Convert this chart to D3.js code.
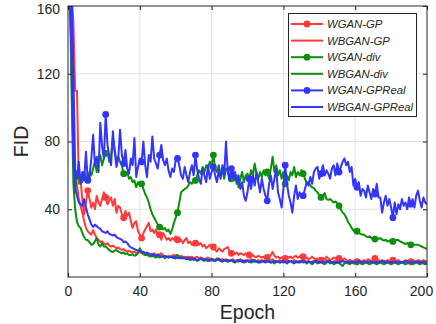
<!DOCTYPE html>
<html><head><meta charset="utf-8">
<script src="https://cdn.jsdelivr.net/npm/d3@7"></script>
<style>body{margin:0;background:#fff;} svg{display:block;}</style>
</head><body>
<svg id="chart" width="436" height="324"></svg>
<script>
const epochs = d3.range(1, 201);
const xTicks = [0, 40, 80, 120, 160, 200];
const yTicks = [40, 80, 120, 160];
const seriesNames = ["WGAN-GP", "WBGAN-GP", "WGAN-div", "WBGAN-div", "WGAN-GPReal", "WBGAN-GPReal"];
const seriesColors = ["#ff3a3a", "#ff3a3a", "#0a900a", "#0a900a", "#3434ff", "#3434ff"];
const seriesMarkers = [true, false, true, false, true, false];

const wganGP = [
175,168,150,110,110,55,58,45,37,44,
51,46,41,44,40,48,44,42,46,50,
47,43,45,47,42,46,38,42,41,37,
35,39,36,38,33,29,32,33,27,25,
23,26,28,30,32,27,28,26,28,24,
25,22,26,24,22,23,21.5,23,22,24,
22,21,22,20,21.8,23,20,21,19,19,
20,21,19,20,18,19,17,18,19,17,
17.7,16,15,17,16,15,16.5,17,17.7,15,
14,15,13.5,14.5,13,14,13.5,13,14,13,
13,12.5,13,12,11.8,12.5,12,11.5,12,11,
11.5,12,13,14.8,12.5,11.5,12,11,11.5,11,
11,12,11.5,12,11,12,12.5,11.5,12,13,
12,11,11.5,10.5,11,12,11,10.5,11,10,
10,11,10.5,12,11,10,10.5,11.5,11,10,
11,10.5,10,11,10,9.5,10,9,9.5,8.5,
9,10,9.5,9,10,9,10.5,10,9.5,10,
11,9.5,10,9,10,9.5,9,10,9.5,9,
10,9,9.5,10,9,8.5,9,10,9,9.5,
9,10,9.5,9,10,9.5,9,10,9.5,9];

const wbganGP = [
170,140,80,62,54,46,42,38,33,29,
27,26,25,27.7,25,23,22,20.7,21,20,
19,20,18.5,18,18.5,17.7,17,17.5,16.5,16,
16.5,15.5,15,15.5,14.8,14.5,15,14,14.5,14.8,
14,15,14,13.5,14,13,13.5,14,13,13.5,
13,14,12.5,12,11.8,12.5,12,12.5,13,12.5,
13,12,12.5,12,11.8,11.8,12,11.5,12,11,
11.5,12,11,11.5,11,10.5,11,11.5,10.5,11,
10.5,10,10.5,11,10,10.5,10,10.5,10,9.5,
10,10.5,9.5,10,9.5,10.5,10,9.5,10,10,
9.5,10.5,10,9.5,9,10,9.5,10,9.5,10,
9.5,9,10,10.5,9.5,9,9.5,10,9.5,9,
9.5,10,9,9.5,9,10,9.5,9,9.5,9,
10,9.5,9,9.5,8.5,9,9.5,10,9,9.5,
9,8.5,9,10,9.5,9,8.5,9,9.5,9,
8.5,9,9.5,9,8.5,9,10,9,8.5,9,
9.5,9,8.5,9,9.5,8.5,9,9,8.5,9,
9.5,9,8.5,9,8.5,9,9.5,9,8.5,9,
8.5,9,9.5,9,8.5,9,8.5,9,9.5,9,
8.5,9,8.5,9,9.5,9,8.5,9,9,8.5];

const wganDiv = [
170,130,80,50,62,58,60,56,62,59,
58,62,60,64,68,62,70,72,66,70,
73,74,68,72,82,75,69,71,68,66,
61,60,62,58,59,56,57,53,56,54,
55,52,49,47,44,40,37,35,33,31,
29.5,30,28,29,27,28,25.5,28,32,35,
38,44,50,51,52,52.5,54,56,55,57,
57,60,63,61,65,62,66,64,68,66,
72,64,62,66,60,63,58,64,63,60,
58,62,57,60,53,58,62,56,60,61,
58,63,60,67,61,58,62,59,63,60,
62,58,64,71,62,66,60,63,58,62,
55,60,57,62,60,65,59,62,60,63,
61,58,55.5,56,54,53,52.5,51,50,48,
47,48,49.5,46,45.5,46,45,44,44.5,43.6,
42,40,38,37,35,32.5,31,29,27.5,26.5,
27,26,25.5,25,25,24,23.5,24,23,22,
22.4,23,22.5,23,22,21.5,22,21,21.5,20.5,
21,21.5,21.8,21.8,21,20.5,20,19.5,20,19.5,
19,19.5,19,19,19,18.5,18,17.5,17,16.5];

const wbganDiv = [
170,110,55,40,32.5,30,29,26,23.6,22,
21.8,20.5,19,19.5,21,23,19,18,20,18,
18,17,16,15,14.8,15.5,16,15,14.5,14,
14.5,13.5,14,13,13,13.5,12.5,13,14,17,
15,13.5,13,13,12.5,12,12.5,12,11.5,12,
11.5,12,12.5,11,12,11.5,11.8,12,11,12.5,
13,11.5,11,11.5,11,10.5,11,10,10.5,10,
10.5,9.5,10,11,10,9.5,10,10.5,9.5,10,
9.5,10,11,10,9.5,9,10,9.5,9,9.5,
10,9,8.5,9.5,9,10,9,8.5,9,9.5,
9,8.5,9,10,9,8.5,9,9.5,9,8.5,
9,9.5,8.5,9,8,9,9.5,8.5,9,8.5,
9,8,9,9.5,8.5,8,9,8.5,9,9.5,
8.5,9,8,9,8.5,7.5,8.5,9,8,8.5,
9,8,7.5,8.5,9,8,8.5,7.5,8,8.5,
8,7.5,6.5,8,8.5,8,7.5,8.5,8,8,
7.5,8.5,8,7.5,8,9,8,7.5,8,8.5,
8,7.5,8,8.5,8,7.5,8,8.5,8,7.5,
8,8.5,8,7.5,8,8.5,8,7.5,8,8.5,
8,7.5,8,8.5,8,7.5,8,8,7.5,8];

const wganGPReal = [
175,170,120,64,58,68,55,62,57,74,
57,60,70,84,66,71,62,91,77,70,
96,78,71,66,86,74,65,70,87,72,
67,75,64,61,70,66,82,59,65,70,
68,80,66,59,72,68,83,70,67,64,
72,78,69,66,70,63,59,64,62,69,
70,66,60,58,65,60,56,62,66,60,
72,63,58,55,64,60,56,66,58,62,
65,60,56,63,58,66,60,80,62,57,
64,58,62,55,60,52,56,48,45,50,
58,52,60,54,62,56,50,58,52,48,
45,55,60,52,58,64,50,46,41,52,
66,55,48,44,38,48,54,46,50,47,
48,52,56,54,59,55,62,64,65,58,
61,66,60,63,61,58,64,66,60,67,
62,65,68,70,66,68,62,65,54,58,
53,56,48,52,51,47,54,50,46,52,
49,55,47,47,38,44,48,42,46,41,
35,44,37,43,40,46,42,44,40,47,
43,46,41,48,51,45,41,47,44,43];

const wbganGPReal = [
172,125,70,52,48,44,43,42,46,41,
37,34,31,29.5,31,30,29,28.5,27,26.5,
26,27,25.5,25,24.5,25,23.5,23,22.5,22,
20.5,21,20,18.5,17.5,17,16.5,16,15.5,15.5,
14.8,14.8,14,14.5,13.5,13,13.5,13,12.5,13,
12.5,12,12,12.5,12,11.5,12,11.5,11.8,11,
11.5,11,11.5,11,11,11,10.5,11,10.5,11,
10.5,10,10.5,11,10,10.5,10,9.5,10,10.5,
10,9.5,10,10.5,10,9.5,10,9.5,10,9.5,
10,9.5,9,9.5,10,9.5,9,9.5,9,9.5,
9,9.5,10,9,9.5,9,8.5,9,9.5,9,
9.5,9,8.5,9,9.5,9,9,8.5,9,9.5,
9,8.5,9,9.5,9,8.5,9,9,8.5,9,
9.5,9,8.5,9,9,8.5,9,9.5,9,8.5,
9,9,8.5,9,9.5,9,8.5,9,8.5,9,
8.5,9,9.5,9,8.5,9,8.5,9,9,8.5,
9,9.5,9,8.5,9,8.5,9,9,8.5,9,
8.5,9,8.5,9,9.5,9,8.5,9,8.5,9,
8.5,9,9,8.5,9,8.5,9,9.5,9,8.5,
9,8.5,9,9,8.5,9,8.5,9,8.5,8.5];

const seriesValues = [wganGP, wbganGP, wganDiv, wbganDiv, wganGPReal, wbganGPReal];

const W = 436, H = 324;
const m = {left: 68, top: 6, right: 9, bottom: 47};
const x = d3.scaleLinear().domain([0, 200]).range([m.left, W - m.right]);
const y = d3.scaleLinear().domain([0, 160]).range([H - m.bottom, m.top]);
const svg = d3.select("#chart");
const font = "'Liberation Sans', Arial, Helvetica, sans-serif";
const axisColor = "#262626";

svg.append("defs").append("clipPath").attr("id", "clip")
  .append("rect").attr("x", m.left).attr("y", m.top)
  .attr("width", x(200) - x(0)).attr("height", y(0) - y(160));

// grid
const grid = svg.append("g");
grid.selectAll(".gx").data(xTicks.filter(d => d > 0 && d < 200)).join("line")
  .attr("x1", d => x(d)).attr("x2", d => x(d)).attr("y1", y(0)).attr("y2", y(160))
  .attr("stroke", "#e1e1e1").attr("stroke-width", 1);
grid.selectAll(".gy").data(yTicks.filter(d => d < 160)).join("line")
  .attr("x1", x(0)).attr("x2", x(200)).attr("y1", d => y(d)).attr("y2", d => y(d))
  .attr("stroke", "#e1e1e1").attr("stroke-width", 1);

// lines
const plot = svg.append("g").attr("clip-path", "url(#clip)");
const line = d3.line().x((d, i) => x(epochs[i])).y(d => y(d));
seriesValues.forEach((vals, s) => {
  plot.append("path").datum(vals).attr("d", line)
    .attr("fill", "none").attr("stroke", seriesColors[s])
    .attr("stroke-width", 2).attr("stroke-linejoin", "round");
  if (seriesMarkers[s]) {
    plot.selectAll(null).data(vals.map((v, i) => [epochs[i], v]).filter(d => (d[0] - 1) % 10 === 0))
      .join("circle").attr("cx", d => x(d[0])).attr("cy", d => y(d[1])).attr("r", 3.4)
      .attr("fill", seriesColors[s]);
  }
});

// axes
function styleAxis(g) {
  g.select(".domain").remove();
  g.selectAll(".tick line").attr("stroke", axisColor);
  g.selectAll("text").attr("fill", axisColor).style("font-family", font).style("font-size", "14px");
}
const xAxisG = svg.append("g").attr("transform", `translate(0,${y(0)})`)
  .call(d3.axisBottom(x).tickValues(xTicks).tickSizeInner(-4).tickSizeOuter(0).tickPadding(9))
  .call(styleAxis);
// keep the last tick label inside the figure, as in the reference
xAxisG.selectAll(".tick text").filter(d => d === 200).attr("dx", "-6");
svg.append("g").attr("transform", `translate(0,${y(160)})`)
  .call(d3.axisTop(x).tickValues(xTicks).tickSizeInner(-4).tickSizeOuter(0).tickFormat(""))
  .call(styleAxis);
const yAxisG = svg.append("g").attr("transform", `translate(${x(0)},0)`)
  .call(d3.axisLeft(y).tickValues(yTicks).tickSizeInner(-4).tickSizeOuter(0).tickPadding(8))
  .call(styleAxis);
yAxisG.selectAll(".tick text").filter(d => d === 160).attr("dy", "0.55em");
svg.append("g").attr("transform", `translate(${x(200)},0)`)
  .call(d3.axisRight(y).tickValues(yTicks).tickSizeInner(-4).tickSizeOuter(0).tickFormat(""))
  .call(styleAxis);

svg.append("rect").attr("x", x(0)).attr("y", y(160))
  .attr("width", x(200) - x(0)).attr("height", y(0) - y(160))
  .attr("fill", "none").attr("stroke", axisColor).attr("stroke-width", 1);

// axis labels
svg.append("text").attr("x", (x(0) + x(200)) / 2).attr("y", 319)
  .attr("text-anchor", "middle").attr("fill", axisColor)
  .style("font-family", font).style("font-size", "19.5px").text("Epoch");
svg.append("text").attr("transform", `translate(28,${(y(0) + y(160)) / 2}) rotate(-90)`)
  .attr("text-anchor", "middle").attr("fill", axisColor)
  .style("font-family", font).style("font-size", "19.5px").text("FID");

// legend
const lg = svg.append("g");
lg.append("rect").attr("x", 288.5).attr("y", 13.5).attr("width", 128).attr("height", 103)
  .attr("fill", "#fff").attr("stroke", axisColor).attr("stroke-width", 1);
seriesNames.forEach((name, i) => {
  const ly = 24 + i * 16.6;
  lg.append("line").attr("x1", 291).attr("x2", 323).attr("y1", ly).attr("y2", ly)
    .attr("stroke", seriesColors[i]).attr("stroke-width", 2);
  if (seriesMarkers[i]) lg.append("circle").attr("cx", 307).attr("cy", ly).attr("r", 3.4).attr("fill", seriesColors[i]);
  lg.append("text").attr("x", 327).attr("y", ly).attr("dy", "0.36em")
    .attr("fill", axisColor).style("font-family", font).style("font-size", "11.3px")
    .style("font-style", "italic").text(name);
});
</script>
</body></html>
